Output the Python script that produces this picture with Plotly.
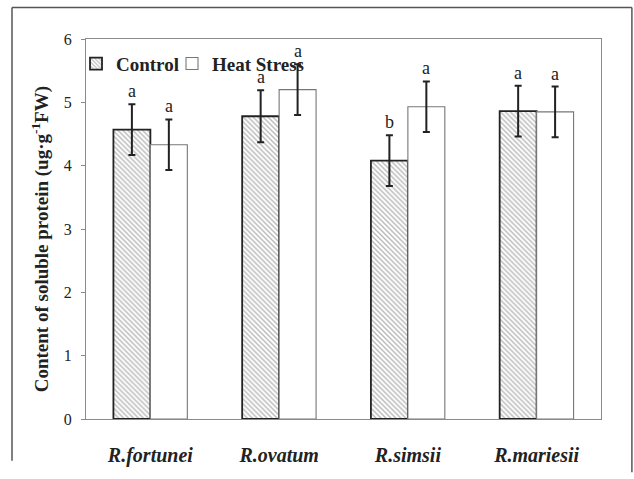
import plotly.graph_objects as go

species = ["R.fortunei", "R.ovatum", "R.simsii", "R.mariesii"]
control = [4.57, 4.78, 4.08, 4.86]
control_err = [0.40, 0.41, 0.40, 0.40]
heat = [4.33, 5.20, 4.93, 4.85]
heat_err = [0.40, 0.40, 0.40, 0.40]
control_letters = ["a", "a", "b", "a"]
heat_letters = ["a", "a", "a", "a"]
y_ticks = [0, 1, 2, 3, 4, 5, 6]

BW = 0.287
xs = list(range(len(species)))
SERIF = "Liberation Serif, Times New Roman, serif"

fig = go.Figure()
fig.add_trace(go.Bar(
    x=xs, y=control, name="<b>Control</b>", width=BW, offset=-BW, legend="legend",
    marker=dict(color="white", line=dict(color="#222222", width=1.8),
                pattern=dict(shape="\\", fgcolor="#707070", size=3.5, solidity=0.4)),
    error_y=dict(type="data", array=control_err, color="#222222", thickness=2, width=3.5),
))
fig.add_trace(go.Bar(
    x=xs, y=heat, name="<b>Heat Stress</b>", width=BW, offset=0, legend="legend2",
    marker=dict(color="white", line=dict(color="#777777", width=1.1)),
    error_y=dict(type="data", array=heat_err, color="#222222", thickness=2, width=3.5),
))

for i in xs:
    fig.add_annotation(x=i - BW / 2, y=control[i] + control_err[i], text=control_letters[i],
                       showarrow=False, yanchor="bottom", yshift=1,
                       font=dict(family=SERIF, size=18, color="#222222"))
    fig.add_annotation(x=i + BW / 2, y=heat[i] + heat_err[i], text=heat_letters[i],
                       showarrow=False, yanchor="bottom", yshift=1,
                       font=dict(family=SERIF, size=18, color="#222222"))

# y axis title
fig.add_annotation(xref="paper", yref="paper", x=-0.0893, y=0.473,
                   text="<b>Content of soluble protein (ug·g<sup>-1</sup>FW)</b>",
                   textangle=-90, showarrow=False, xanchor="center", yanchor="middle",
                   font=dict(family=SERIF, size=19, color="#222222"))

# outer frame
L, R, T = -0.1437, 1.060, 1.0827
fig.add_shape(type="line", xref="paper", yref="paper", x0=L, x1=L, y0=T, y1=-0.11,
              line=dict(color="#555555", width=1.5))
fig.add_shape(type="line", xref="paper", yref="paper", x0=L, x1=R, y0=T, y1=T,
              line=dict(color="#555555", width=1.5))
fig.add_shape(type="line", xref="paper", yref="paper", x0=R, x1=R, y0=T, y1=-0.14,
              line=dict(color="#555555", width=1.5))

legend_common = dict(orientation="h", y=0.985, xanchor="left", yanchor="top",
                     bgcolor="rgba(0,0,0,0)",
                     font=dict(family=SERIF, size=19, color="#222222"), itemwidth=30)

fig.update_layout(
    width=634, height=479,
    margin=dict(l=86, r=33, t=39, b=53),
    paper_bgcolor="white", plot_bgcolor="white",
    barmode="overlay",
    showlegend=True,
    legend=dict(x=-0.0194, **legend_common),
    legend2=dict(x=0.167, **legend_common),
    font=dict(family=SERIF, color="#222222"),
    xaxis=dict(range=[-0.5, 3.5], tickmode="array", tickvals=xs,
               ticktext=["<b><i>%s</i></b>" % s for s in species],
               tickfont=dict(family=SERIF, size=20, color="#222222"),
               showline=True, linecolor="#8a8a8a", linewidth=1.2, mirror=True,
               ticks="", showgrid=False, zeroline=False, ticklabelstandoff=18),
    yaxis=dict(range=[0, 6], tickvals=y_ticks,
               tickfont=dict(family=SERIF, size=16, color="#222222"),
               showline=True, linecolor="#8a8a8a", linewidth=1.2, mirror=True,
               ticks="outside", ticklen=4, tickcolor="#8a8a8a",
               showgrid=False, zeroline=False, ticklabelstandoff=6),
)

fig.write_html("out.html", config={"displayModeBar": False},
               post_script="document.body.style.margin='0';document.body.style.overflow='hidden';")
